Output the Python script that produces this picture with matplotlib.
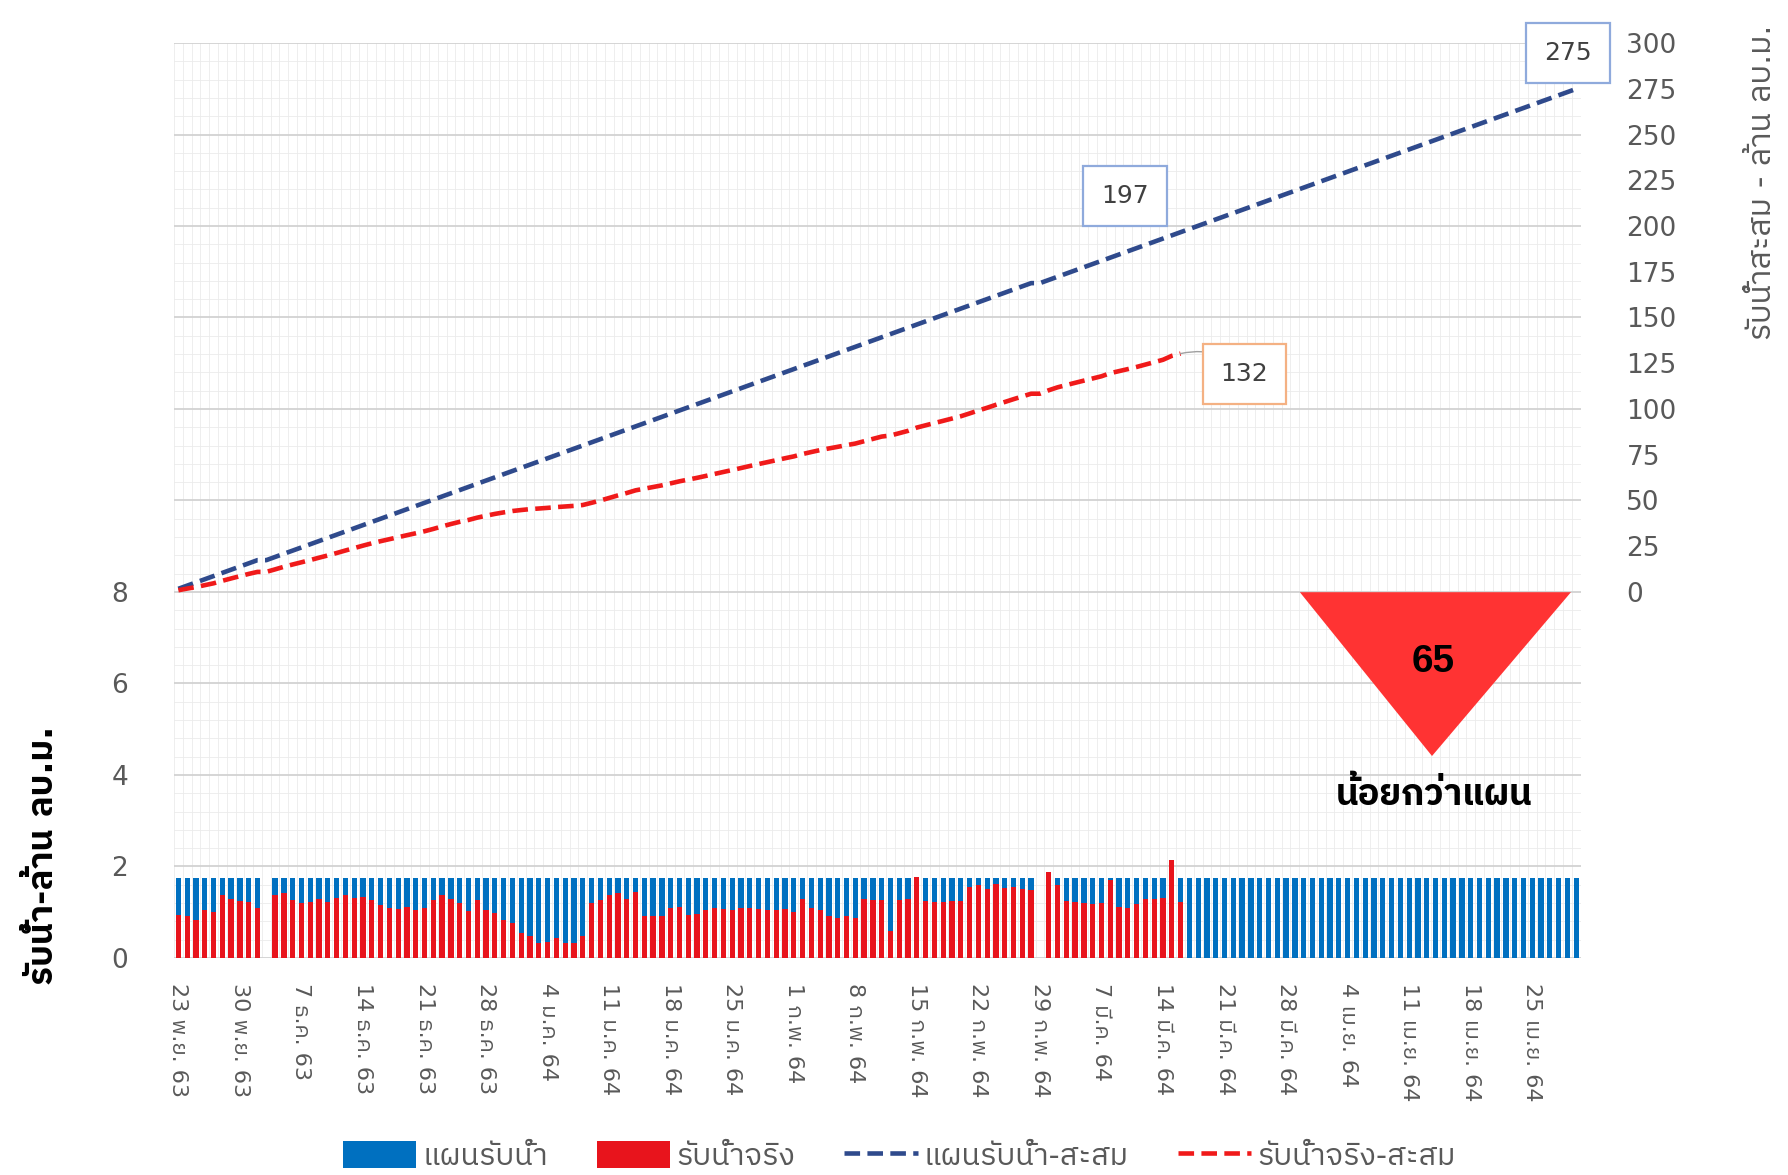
import numpy as np
import matplotlib
matplotlib.use('Agg')
from matplotlib import pyplot as plt
from matplotlib import font_manager
from matplotlib.ft2font import FT2Font
from matplotlib.patches import Polygon
from matplotlib.ticker import MultipleLocator

# daily plan, million m3, 23 Nov 63 .. 30 Apr 64 (0 = no record)
plan_daily = [
    1.74, 1.74, 1.74, 1.74, 1.74, 1.74, 1.74, 1.74, 1.74, 1.74,
    0.00, 1.74, 1.74, 1.74, 1.74, 1.74, 1.74, 1.74, 1.74, 1.74,
    1.74, 1.74, 1.74, 1.74, 1.74, 1.74, 1.74, 1.74, 1.74, 1.74,
    1.74, 1.74, 1.74, 1.74, 1.74, 1.74, 1.74, 1.74, 1.74, 1.74,
    1.74, 1.74, 1.74, 1.74, 1.74, 1.74, 1.74, 1.74, 1.74, 1.74,
    1.74, 1.74, 1.74, 1.74, 1.74, 1.74, 1.74, 1.74, 1.74, 1.74,
    1.74, 1.74, 1.74, 1.74, 1.74, 1.74, 1.74, 1.74, 1.74, 1.74,
    1.74, 1.74, 1.74, 1.74, 1.74, 1.74, 1.74, 1.74, 1.74, 1.74,
    1.74, 1.74, 1.74, 1.74, 1.74, 1.74, 1.74, 1.74, 1.74, 1.74,
    1.74, 1.74, 1.74, 1.74, 1.74, 1.74, 1.74, 1.74, 0.00, 1.74,
    1.74, 1.74, 1.74, 1.74, 1.74, 1.74, 1.74, 1.74, 1.74, 1.74,
    1.74, 1.74, 1.74, 1.74, 1.74, 1.74, 1.74, 1.74, 1.74, 1.74,
    1.74, 1.74, 1.74, 1.74, 1.74, 1.74, 1.74, 1.74, 1.74, 1.74,
    1.74, 1.74, 1.74, 1.74, 1.74, 1.74, 1.74, 1.74, 1.74, 1.74,
    1.74, 1.74, 1.74, 1.74, 1.74, 1.74, 1.74, 1.74, 1.74, 1.74,
    1.74, 1.74, 1.74, 1.74, 1.74, 1.74, 1.74, 1.74, 1.74, 1.74,
]
# daily actual intake up to 14 Mar 64
actual_daily = [
    0.95, 0.91, 0.82, 1.05, 1.01, 1.38, 1.28, 1.25, 1.23, 1.10,
    0.00, 1.38, 1.41, 1.26, 1.20, 1.22, 1.29, 1.23, 1.32, 1.38,
    1.32, 1.34, 1.27, 1.16, 1.09, 1.07, 1.12, 1.05, 1.10, 1.27,
    1.38, 1.30, 1.20, 1.02, 1.27, 1.05, 0.98, 0.83, 0.76, 0.54,
    0.49, 0.33, 0.36, 0.43, 0.33, 0.33, 0.47, 1.20, 1.27, 1.38,
    1.41, 1.30, 1.45, 0.91, 0.91, 0.91, 1.09, 1.12, 0.94, 0.96,
    1.05, 1.09, 1.07, 1.05, 1.10, 1.10, 1.07, 1.05, 1.05, 1.07,
    1.01, 1.30, 1.10, 1.05, 0.91, 0.88, 0.91, 0.87, 1.28, 1.27,
    1.27, 0.58, 1.27, 1.28, 1.78, 1.25, 1.23, 1.22, 1.24, 1.25,
    1.55, 1.60, 1.50, 1.62, 1.52, 1.55, 1.50, 1.48, 0.00, 1.88,
    1.60, 1.25, 1.22, 1.20, 1.18, 1.20, 1.70, 1.12, 1.10, 1.18,
    1.30, 1.30, 1.32, 2.14, 1.23,
]
tick_labels = ['23 พ.ย. 63', '30 พ.ย. 63', '7 ธ.ค. 63', '14 ธ.ค. 63', '21 ธ.ค. 63',
               '28 ธ.ค. 63', '4 ม.ค. 64', '11 ม.ค. 64', '18 ม.ค. 64', '25 ม.ค. 64',
               '1 ก.พ. 64', '8 ก.พ. 64', '15 ก.พ. 64', '22 ก.พ. 64', '29 ก.พ. 64',
               '7 มี.ค. 64', '14 มี.ค. 64', '21 มี.ค. 64', '28 มี.ค. 64', '4 เม.ย. 64',
               '11 เม.ย. 64', '18 เม.ย. 64', '25 เม.ย. 64']
legend_labels = ['แผนรับน้ำ', 'รับน้ำจริง', 'แผนรับน้ำ-สะสม', 'รับน้ำจริง-สะสม']
box_labels = ['275', '197', '132']
gap_value = '65'
gap_text = 'น้อยกว่าแผน'


def find_thai():
    found = []
    for f in font_manager.fontManager.ttflist:
        try:
            if 0x0E19 in FT2Font(f.fname).get_charmap():
                found.append(f.name)
        except Exception:
            pass
    for name in found:
        if 'Sans' in name and 'Mono' not in name:
            return name
    return found[0] if found else None


thai = find_thai()
fams = ['DejaVu Sans'] + ([thai] if thai else [])
plt.rcParams['font.family'] = fams

GRAY = '#595959'
fig = plt.figure(figsize=(17.88, 11.75), dpi=100)
ax = fig.add_axes([0.0973, 0.1847, 0.7867, 0.7787])
ax2 = ax.twinx()

x = np.arange(len(plan_daily))
xa = np.arange(len(actual_daily))
b1 = ax.bar(x, plan_daily, width=0.6, color='#0070C0', zorder=2)
b2 = ax.bar(xa, actual_daily, width=0.6, color='#E8141C', zorder=3)

plan_cum = np.cumsum(plan_daily)
act_cum = np.cumsum(actual_daily)
l1, = ax2.plot(x, plan_cum, color='#2F4A8C', lw=3.3, dashes=(3.4, 1.6))
l2, = ax2.plot(xa, act_cum, color='#F01A1A', lw=3.3, dashes=(3.4, 1.6))

ax.set_xlim(-0.5, len(plan_daily) - 0.5)
ax.set_ylim(0, 20)
ax2.set_ylim(-200, 300)

ax.set_xticks(np.arange(len(tick_labels)) * 7)
ax.set_xticklabels(tick_labels, rotation=-90, color=GRAY, fontsize=16)
yt = np.arange(0, 21, 2)
ax.set_yticks(yt)
ax.set_yticklabels([str(v) if v <= 8 else '' for v in yt], color=GRAY, fontsize=19)
ax2.set_yticks(np.arange(0, 301, 25))
ax2.set_yticklabels([str(v) for v in np.arange(0, 301, 25)], color=GRAY, fontsize=19)
ax.tick_params(axis='x', which='both', length=0, pad=18)
ax.tick_params(axis='y', which='both', length=0, pad=33)
ax2.tick_params(axis='y', length=0, pad=33)

ax.xaxis.set_minor_locator(MultipleLocator(1, offset=0.5))
ax.yaxis.set_minor_locator(MultipleLocator(0.4))
ax.set_axisbelow(True)
ax.grid(which='major', axis='y', color='#d2d2d2', lw=1.3)
ax.grid(which='minor', axis='both', color='#ebebeb', lw=0.6)
for a in (ax, ax2):
    for s in a.spines.values():
        s.set_visible(False)

# value boxes
ax2.annotate(box_labels[0], xy=(x[-1], plan_cum[-1]), xytext=(-6, 26), textcoords='offset points',
             ha='center', va='center', fontsize=18, color='#404040',
             bbox=dict(boxstyle='square,pad=0.72', fc='white', ec='#8FAADC', lw=1.6))
ax2.annotate(box_labels[1], xy=(xa[-1], plan_cum[len(xa) - 1]), xytext=(-40, 26),
             textcoords='offset points', ha='center', va='center', fontsize=18, color='#404040',
             bbox=dict(boxstyle='square,pad=0.72', fc='white', ec='#8FAADC', lw=1.6))
ax2.annotate(box_labels[2], xy=(xa[-1], act_cum[-1]), xytext=(46, -15),
             textcoords='offset points', ha='center', va='center', fontsize=18, color='#404040',
             bbox=dict(boxstyle='square,pad=0.72', fc='white', ec='#F4B183', lw=1.6),
             arrowprops=dict(arrowstyle='-', color='#a0a0a0', lw=1,
                             connectionstyle='arc3,rad=0.3', shrinkA=0, shrinkB=0))

# red triangle
tri = Polygon([(0.727, 0.496), (0.8786, 0.496), (0.8009, 0.3566)], closed=True,
              transform=fig.transFigure, fc='#FF3333', ec='none', zorder=5)
fig.add_artist(tri)
fig.text(0.8015, 0.437, gap_value, ha='center', va='center', fontsize=28,
         fontweight='bold', family='Liberation Sans', zorder=6)
fig.text(0.802, 0.3234, gap_text, ha='center', va='center', fontsize=26,
         fontweight='bold', zorder=6)

fig.text(0.024, 0.272, 'รับน้ำ-ล้าน ลบ.ม.', rotation=90, ha='center', va='center',
         fontsize=25, fontweight='bold')
fig.text(0.9855, 0.845, 'รับน้ำสะสม - ล้าน ลบ.ม.', rotation=90, ha='center', va='center',
         fontsize=23, color=GRAY)

fig.legend([b1, b2, l1, l2], legend_labels, loc='lower center', bbox_to_anchor=(0.503, -0.02),
           ncol=4, frameon=False, fontsize=22, labelcolor=GRAY, handlelength=2.4,
           handleheight=0.95, handletextpad=0.2, columnspacing=1.6)

fig.savefig('out.png', dpi=100)
